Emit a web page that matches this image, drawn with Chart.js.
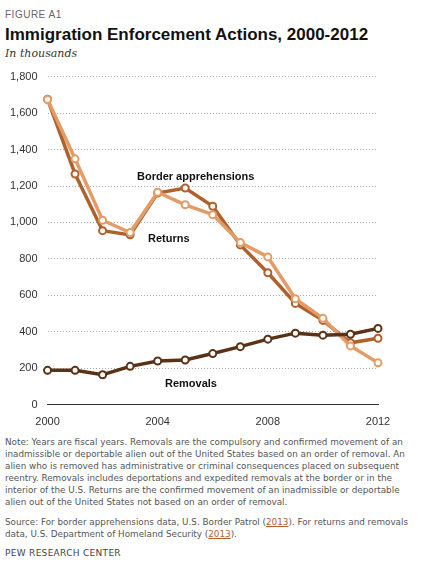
<!DOCTYPE html>
<html>
<head>
<script src="https://cdn.jsdelivr.net/npm/chart.js"></script>
<style>
  body { margin: 0; font-family: Arial, "Liberation Sans", sans-serif; background: #fff; width: 423px; }
  .fig { font-size: 10px; color: #666; letter-spacing: 0.5px; margin: 9px 0 0 5px; }
  h1 { font-size: 17px; font-weight: bold; margin: 5px 0 0 5px; color: #111; }
  .sub { font-family: Georgia, "DejaVu Serif", serif; font-style: italic; font-size: 11px; color: #333; margin: 2px 0 0 5px; }
  .wrap { position: relative; width: 400px; height: 372px; margin-top: 0; }
  .lab { position: absolute; font-size: 11px; font-weight: bold; color: #111; }
  .note { font-family: "DejaVu Sans", Verdana, sans-serif; font-size: 8.8px; color: #555; margin: 4px 8px 0 5px; line-height: 12px; }
  .src { font-family: "DejaVu Sans", Verdana, sans-serif; font-size: 8.8px; color: #555; margin: 8px 8px 0 5px; line-height: 12px; }
  .src span { color: #b3612a; text-decoration: underline; }
  .pew { font-family: "DejaVu Sans", Verdana, sans-serif; font-size: 9px; color: #444; letter-spacing: 0.3px; margin: 8px 0 0 5px; }
</style>
</head>
<body>
<div class="fig">FIGURE A1</div>
<h1>Immigration Enforcement Actions, 2000-2012</h1>
<div class="sub">In thousands</div>
<div class="wrap">
  <canvas id="c" width="400" height="372"></canvas>
  <div class="lab" style="left:137px;top:110px">Border apprehensions</div>
  <div class="lab" style="left:148px;top:172px">Returns</div>
  <div class="lab" style="left:165px;top:317px">Removals</div>
</div>
<div class="note">Note: Years are fiscal years. Removals are the compulsory and confirmed movement of an inadmissible or deportable alien out of the United States based on an order of removal. An alien who is removed has administrative or criminal consequences placed on subsequent reentry. Removals includes deportations and expedited removals at the border or in the interior of the U.S. Returns are the confirmed movement of an inadmissible or deportable alien out of the United States not based on an order of removal.</div>
<div class="src">Source: For border apprehensions data, U.S. Border Patrol (<span>2013</span>). For returns and removals data, U.S. Department of Homeland Security (<span>2013</span>).</div>
<div class="pew">PEW RESEARCH CENTER</div>
<script>
const years = [2000,2001,2002,2003,2004,2005,2006,2007,2008,2009,2010,2011,2012];
const apprehensions = [1676,1266,955,932,1161,1189,1089,877,724,556,463,340,365];
const returns = [1675,1349,1012,945,1166,1097,1043,890,811,582,474,323,230];
const removals = [189,189,165,211,240,246,281,319,360,393,382,387,419];
const xTicks = [2000,2004,2008,2012];

function ds(data, color) {
  return {
    data: data.map((v, i) => ({ x: years[i], y: v })),
    borderColor: color, backgroundColor: "#fff", borderWidth: 3.5,
    pointRadius: 3.5, pointBorderWidth: 2, pointBorderColor: color, tension: 0, clip: false
  };
}
new Chart(document.getElementById("c"), {
  type: "line",
  data: { datasets: [ds(removals, "#5a3217"), ds(returns, "#e39c68"), ds(apprehensions, "#b0602a")] },
  options: {
    responsive: false, animation: false,
    layout: { padding: { left: 0, right: 22, top: 14 } },
    plugins: { legend: { display: false }, tooltip: { enabled: false } },
    scales: {
      x: {
        type: "linear", min: 2000, max: 2012,
        afterBuildTicks: a => { a.ticks = xTicks.map(v => ({ value: v })); },
        ticks: { callback: v => String(v), color: "#333", font: { size: 11 }, maxRotation: 0 },
        grid: { display: false }, border: { color: "#333", width: 1 }
      },
      y: {
        min: 0, max: 1800,
        ticks: { stepSize: 200, color: "#333", font: { size: 11 }, padding: 10, callback: v => v === 0 ? "0" : v.toLocaleString("en-US") },
        grid: { color: ctx => ctx.tick.value === 0 ? "rgba(0,0,0,0)" : "#aaa", drawTicks: false },
        border: { display: false, dash: [1, 2] }
      }
    }
  }
});
</script>
</body>
</html>
